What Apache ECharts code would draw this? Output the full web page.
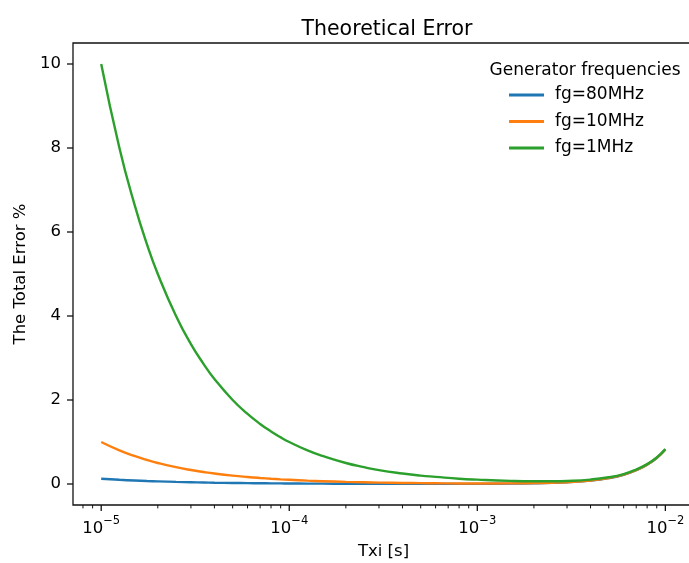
<!DOCTYPE html>
<html>
<head>
<meta charset="utf-8">
<script src="https://cdn.jsdelivr.net/npm/echarts@6/dist/echarts.min.js"></script>
<style>
html,body{margin:0;padding:0;background:#fff;}
#chart{width:689px;height:563px;}
</style>
</head>
<body>
<div id="chart"></div>
<script>
// Txi [s]
const txi = [1e-5, 1.25e-5, 1.5e-5, 1.75e-5, 2e-5, 2.5e-5, 3e-5, 3.5e-5, 4e-5, 5e-5, 6e-5, 7e-5, 8e-5, 9e-5,
  1e-4, 1.25e-4, 1.5e-4, 2e-4, 2.5e-4, 3e-4, 4e-4, 5e-4, 6e-4, 8e-4,
  1e-3, 1.5e-3, 2e-3, 2.5e-3, 3e-3, 4e-3, 5e-3, 6e-3, 7e-3, 8e-3, 9e-3, 1e-2];
// The Total Error % per generator frequency
const err80MHz = [0.125, 0.1, 0.083, 0.071, 0.063, 0.05, 0.042, 0.036, 0.031, 0.025, 0.021, 0.018, 0.016, 0.014,
  0.0125, 0.01, 0.008, 0.006, 0.005, 0.004, 0.003, 0.003, 0.002, 0.002,
  0.004, 0.008, 0.016, 0.026, 0.04, 0.08, 0.14, 0.22, 0.33, 0.46, 0.62, 0.82];
const err10MHz = [1.0, 0.8, 0.667, 0.571, 0.5, 0.4, 0.333, 0.286, 0.25, 0.2, 0.167, 0.143, 0.125, 0.111,
  0.1, 0.08, 0.067, 0.05, 0.04, 0.033, 0.025, 0.02, 0.017, 0.013,
  0.013, 0.014, 0.02, 0.03, 0.043, 0.083, 0.142, 0.222, 0.331, 0.461, 0.621, 0.821];
const err1MHz = [10.0, 8.0, 6.67, 5.71, 5.0, 4.0, 3.33, 2.86, 2.5, 2.0, 1.67, 1.43, 1.25, 1.11,
  1.0, 0.8, 0.67, 0.5, 0.4, 0.33, 0.25, 0.2, 0.17, 0.125,
  0.103, 0.074, 0.065, 0.066, 0.073, 0.105, 0.16, 0.237, 0.344, 0.473, 0.631, 0.83];
const seriesNames = ['fg=80MHz', 'fg=10MHz', 'fg=1MHz'];
const legendTitle = 'Generator frequencies';
const chartTitle = 'Theoretical Error';
const xName = 'Txi [s]';
const yName = 'The Total Error %';
// axis ticks
const xMajorTicks = [1e-5, 1e-4, 1e-3, 1e-2];
const xMinorTicks = [8e-6, 9e-6,
  2e-5, 3e-5, 4e-5, 5e-5, 6e-5, 7e-5, 8e-5, 9e-5,
  2e-4, 3e-4, 4e-4, 5e-4, 6e-4, 7e-4, 8e-4, 9e-4,
  2e-3, 3e-3, 4e-3, 5e-3, 6e-3, 7e-3, 8e-3, 9e-3];
const yTicks = [0, 2, 4, 6, 8, 10];
const xMin = 7.08e-6, xMax = 1.42e-2, yMin = -0.5, yMax = 10.5;

const FONT = 'DejaVu Sans';
const colors = ['#1f77b4', '#ff7f0e', '#2ca02c'];
const datasets = [err80MHz, err10MHz, err1MHz];

const chart = echarts.init(document.getElementById('chart'), null, {renderer: 'canvas'});
const lineSeries = datasets.map((d, i) => ({
  name: seriesNames[i],
  type: 'line',
  data: txi.map((t, k) => [t, d[k]]),
  smooth: true,
  showSymbol: false,
  lineStyle: {color: colors[i], width: 2.4},
  itemStyle: {color: colors[i]},
  z: 2 + i
}));

const tickSeries = {
  type: 'custom',
  coordinateSystem: 'cartesian2d',
  clip: false,
  silent: true,
  z: 10,
  data: xMajorTicks.map(v => [v, yMin, 6]).concat(xMinorTicks.map(v => [v, yMin, 3.4])),
  renderItem: (params, api) => {
    const p = api.coord([api.value(0), api.value(1)]);
    const len = api.value(2);
    return {type: 'line', shape: {x1: p[0], y1: p[1], x2: p[0], y2: p[1] + len},
      style: {stroke: '#111', lineWidth: len > 4 ? 1.3 : 1}};
  }
};
const yTickSeries = {
  type: 'custom',
  coordinateSystem: 'cartesian2d',
  clip: false,
  silent: true,
  z: 10,
  data: yTicks.map(v => [xMin, v]),
  renderItem: (params, api) => {
    const p = api.coord([api.value(0), api.value(1)]);
    return {type: 'line', shape: {x1: p[0] - 6, y1: p[1], x2: p[0], y2: p[1]},
      style: {stroke: '#111', lineWidth: 1.3}};
  }
};

chart.setOption({
  animation: false,
  backgroundColor: '#fff',
  textStyle: {fontFamily: FONT},
  title: [
    {text: chartTitle, left: 382, top: 14, textAlign: 'center',
     textStyle: {fontFamily: FONT, fontSize: 20.5, fontWeight: 'normal', color: '#000'}},
    {text: legendTitle, left: 580, top: 57, textAlign: 'center',
     textStyle: {fontFamily: FONT, fontSize: 17, fontWeight: 'normal', color: '#000'}}
  ],
  legend: {
    data: seriesNames,
    orient: 'vertical',
    left: 509,
    top: 85,
    padding: 0,
    itemWidth: 35,
    itemHeight: 3,
    itemGap: 6.5,
    icon: 'rect',
    textStyle: {fontFamily: FONT, fontSize: 17, color: '#000', lineHeight: 20, padding: [0, 0, 0, 6]}
  },
  grid: {left: 73, top: 43, width: 621, height: 462, outerBoundsMode: 'none', containLabel: false,
    show: true, borderColor: '#111', borderWidth: 1.3, backgroundColor: 'transparent'},
  xAxis: {
    type: 'log',
    min: xMin,
    max: xMax,
    logBase: 10,
    name: xName,
    nameLocation: 'middle',
    nameGap: 38,
    nameTextStyle: {fontFamily: FONT, fontSize: 16.5, color: '#000'},
    axisLine: {show: false},
    axisTick: {show: false},
    splitLine: {show: false},
    minorTick: {show: false},
    axisLabel: {
      margin: 10,
      showMinLabel: true,
      showMaxLabel: true,
      formatter: v => {
        const e = Math.log10(v);
        const r = Math.round(e);
        if (Math.abs(e - r) > 1e-6) return '';
        return '{b|10}{s|\u2212' + (-r) + '}';
      },
      rich: {
        b: {fontFamily: FONT, fontSize: 16.5, color: '#000', lineHeight: 22, verticalAlign: 'bottom'},
        s: {fontFamily: FONT, fontSize: 11.5, color: '#000', lineHeight: 22, verticalAlign: 'top'}
      }
    }
  },
  yAxis: {
    type: 'value',
    min: yMin,
    max: yMax,
    interval: 0.5,
    name: yName,
    nameLocation: 'middle',
    nameGap: 43,
    nameTextStyle: {fontFamily: FONT, fontSize: 16.5, color: '#000'},
    axisLine: {show: false},
    axisTick: {show: false},
    splitLine: {show: false},
    axisLabel: {
      margin: 12,
      fontFamily: FONT, fontSize: 16.5, color: '#000',
      formatter: v => (Math.abs(v - Math.round(v)) < 1e-9 && Math.round(v) % 2 === 0 && v >= 0 && v <= 10) ? String(Math.round(v)) : ''
    }
  },
  series: lineSeries.concat([tickSeries, yTickSeries])
});
</script>
</body>
</html>
